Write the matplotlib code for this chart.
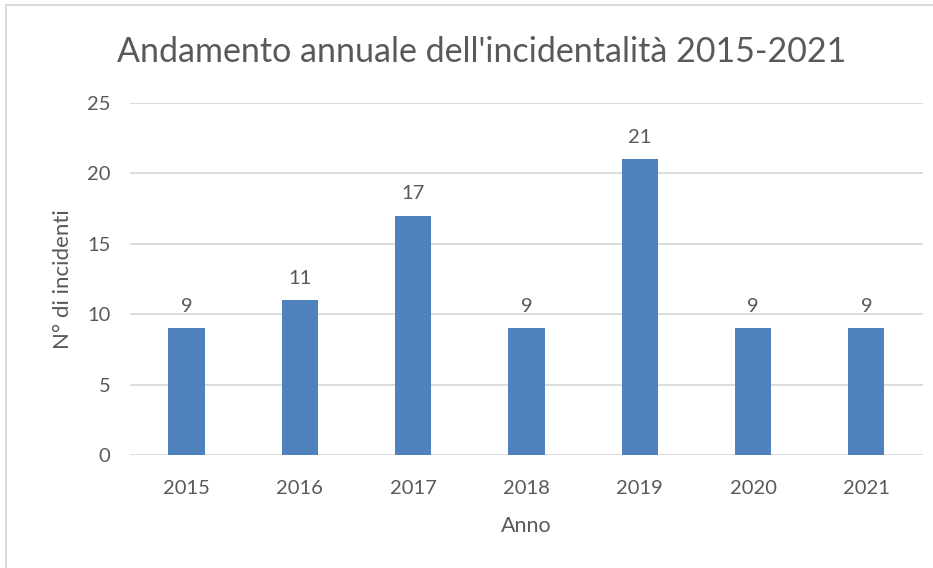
import matplotlib
matplotlib.use("Agg")
import matplotlib.pyplot as plt
from matplotlib.patches import Rectangle

years = ["2015", "2016", "2017", "2018", "2019", "2020", "2021"]
incidents = [9, 11, 17, 9, 21, 9, 9]
y_ticks = [0, 5, 10, 15, 20, 25]

BAR = "#4F81BD"
TXT = "#595959"
GRID = "#D9D9D9"

plt.rcParams["font.family"] = ["Lato", "DejaVu Sans"]

fig = plt.figure(figsize=(9.33, 5.68), dpi=100, facecolor="white")
# chart frame like Excel
fig.patches.append(Rectangle((6 / 933, -0.1), 2, 1.1 - 5 / 568, transform=fig.transFigure,
                             fill=False, edgecolor="#D9D9D9", linewidth=1.5))

ax = fig.add_axes([0.1393, 0.199, 0.85, 0.6197])
x = range(len(years))
ax.bar(x, incidents, width=0.32, color=BAR, zorder=3)
for xi, v in zip(x, incidents):
    ax.text(xi, v + 0.95, str(v), ha="center", va="bottom", color=TXT, fontsize=14.5)

ax.set_xlim(-0.5, len(years) - 0.5)
ax.set_ylim(0, 25)
ax.set_yticks(y_ticks)
ax.set_xticks(list(x))
ax.set_xticklabels(years)
ax.grid(axis="y", color=GRID, linewidth=1.3, zorder=0)
ax.tick_params(length=0, labelsize=14.5, colors=TXT, pad=18)
ax.tick_params(axis="y", pad=14)
for s in ax.spines.values():
    s.set_visible(False)

ax.set_xlabel("Anno", color=TXT, fontsize=15.5, labelpad=14)
ax.set_ylabel("N° di incidenti", color=TXT, fontsize=16, labelpad=10)
fig.text(0.516, 0.908, "Andamento annuale dell'incidentalità 2015-2021",
         ha="center", va="center", color=TXT, fontsize=24.5)

plt.savefig("out.png", dpi=100, facecolor="white")
plt.close()
